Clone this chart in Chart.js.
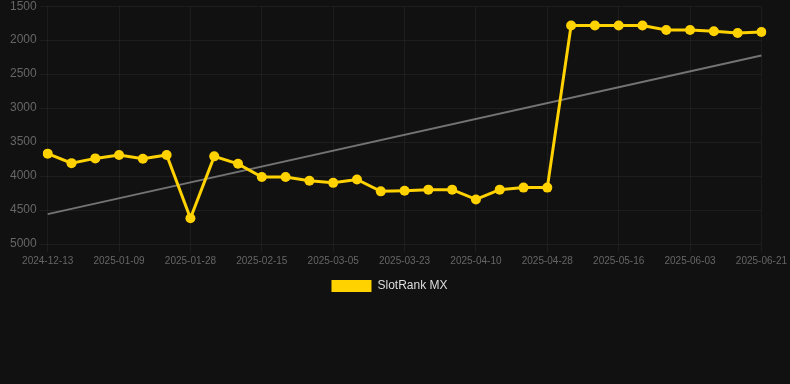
<!DOCTYPE html>
<html>
<head>
<meta charset="utf-8">
<script src="https://cdn.jsdelivr.net/npm/chart.js@4"></script>
<style>
  html, body { margin: 0; padding: 0; background: #111111; overflow: hidden; }
  #wrap { width: 790px; height: 306px; position: relative; margin-top: -4px; }
</style>
</head>
<body>
<div id="wrap"><canvas id="chart"></canvas></div>
<script>
const labels = [
    '2024-12-13', '2024-12-22', '2024-12-31', '2025-01-09', '2025-01-15', '2025-01-22',
    '2025-01-28', '2025-02-03', '2025-02-09', '2025-02-15', '2025-02-21', '2025-02-27',
    '2025-03-05', '2025-03-11', '2025-03-17', '2025-03-23', '2025-03-29', '2025-04-04',
    '2025-04-10', '2025-04-16', '2025-04-22', '2025-04-28', '2025-05-04', '2025-05-10',
    '2025-05-16', '2025-05-22', '2025-05-28', '2025-06-03', '2025-06-09', '2025-06-15',
    '2025-06-21'
];

const rankMX = [
    3670, 3810, 3740, 3690, 3745, 3690,
    4620, 3710, 3820, 4015, 4015, 4070,
    4100, 4050, 4225, 4215, 4200, 4200,
    4345, 4200, 4170, 4170, 1785, 1785,
    1785, 1785, 1850, 1850, 1870, 1895,
    1880
];

// trend line end points
const trendStart = 4560;
const trendEnd = 2225;

const yTicks = [1500, 2000, 2500, 3000, 3500, 4000, 4500, 5000];

const ctx = document.getElementById('chart').getContext('2d');

new Chart(ctx, {
    type: 'line',
    data: {
        labels: labels,
        datasets: [{
            label: 'SlotRank MX',
            data: rankMX,
            borderColor: '#ffd200',
            backgroundColor: '#ffd200',
            borderWidth: 3,
            pointRadius: 5,
            pointBorderWidth: 0,
            pointBackgroundColor: '#ffd200',
            tension: 0,
            order: 1
        }, {
            label: 'trend',
            data: [
                { x: labels[0], y: trendStart },
                { x: labels[labels.length - 1], y: trendEnd }
            ],
            borderColor: 'rgba(140, 140, 140, 0.8)',
            borderWidth: 2,
            pointRadius: 0,
            tension: 0,
            order: 2
        }]
    },
    options: {
        responsive: true,
        maintainAspectRatio: false,
        animation: false,
        layout: {
            padding: { left: 7, right: 18 }
        },
        plugins: {
            legend: {
                position: 'bottom',
                labels: {
                    color: '#dddddd',
                    boxWidth: 40,
                    boxHeight: 12,
                    font: { size: 12, family: 'Arial, Liberation Sans, sans-serif' },
                    filter: (item) => item.text !== 'trend',
                    generateLabels: (chart) => {
                        const items = Chart.defaults.plugins.legend.labels.generateLabels(chart);
                        items.forEach(it => { it.lineWidth = 0; });
                        return items;
                    }
                }
            },
            tooltip: { enabled: false }
        },
        scales: {
            x: {
                grid: { color: 'rgba(255, 255, 255, 0.05)' },
                border: { display: false },
                ticks: {
                    color: '#666666',
                    maxRotation: 0,
                    autoSkip: true,
                    font: { size: 10, family: 'Arial, Liberation Sans, sans-serif' },
                    callback: function (value, index) {
                        return index % 3 === 0 ? labels[index] : null;
                    }
                }
            },
            y: {
                reverse: true,
                min: yTicks[0],
                max: yTicks[yTicks.length - 1],
                grid: { color: 'rgba(255, 255, 255, 0.05)' },
                border: { display: false },
                afterBuildTicks: (axis) => {
                    axis.ticks = yTicks.map(v => ({ value: v }));
                },
                ticks: {
                    color: '#666666',
                    font: { size: 12, family: 'Arial, Liberation Sans, sans-serif' },
                    callback: (value) => String(value)
                }
            }
        }
    }
});
</script>
</body>
</html>
